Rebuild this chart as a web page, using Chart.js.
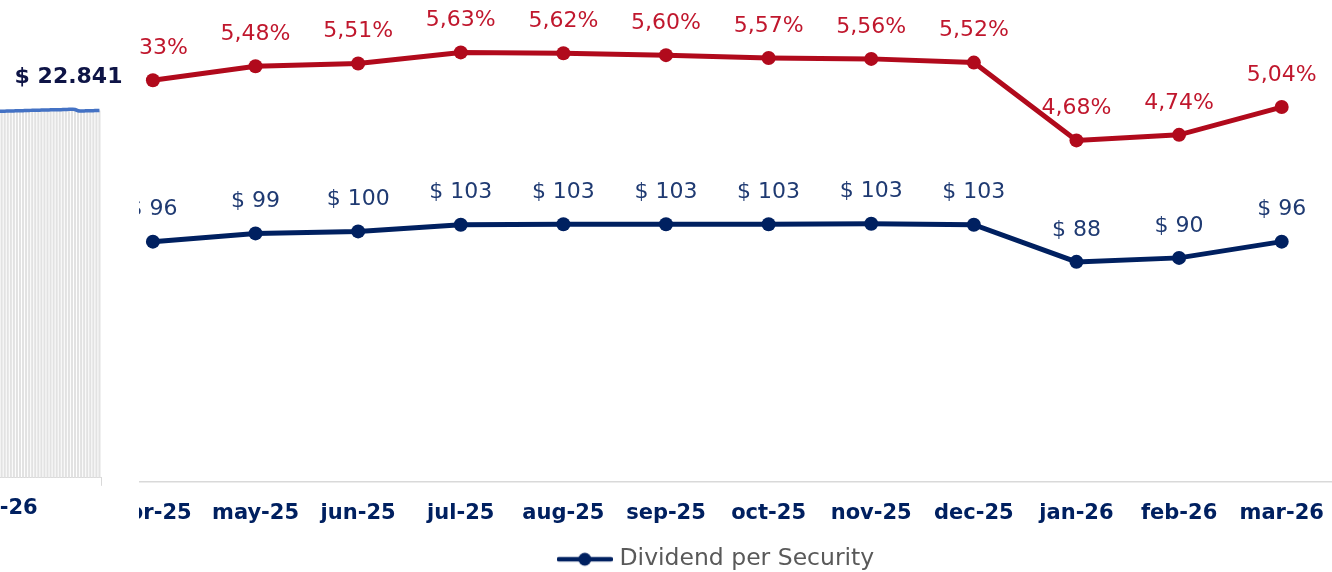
<!DOCTYPE html>
<html>
<head>
<meta charset="utf-8">
<script src="https://cdn.jsdelivr.net/npm/chart.js@4.4.1/dist/chart.umd.min.js"></script>
<style>
  html, body { margin: 0; padding: 0; background: #fff; overflow: hidden; width: 1332px; height: 572px; }
  #leftWrap { position: absolute; left: 0; top: 0; width: 139px; height: 572px; overflow: hidden; }
  #leftChart { position: absolute; left: -60px; top: 0; }
  #rightWrap { position: absolute; left: 139px; top: 0; width: 1193px; height: 572px; overflow: hidden; }
  #rightChart { position: absolute; left: -139px; top: 0; }
</style>
</head>
<body>
<div id="leftWrap"><canvas id="leftChart" width="200" height="572"></canvas></div>
<div id="rightWrap"><canvas id="rightChart" width="1340" height="572"></canvas></div>
<script>
const FONT = "'DejaVu Sans', sans-serif"

// left chart (tail of the daily value series)
const leftValues = [
    22790, 22795, 22800, 22800, 22805, 22810, 22815, 22820, 22825, 22830,
    22840, 22845, 22850, 22855, 22860, 22865, 22870, 22875, 22880, 22885,
    22885, 22890, 22895, 22900, 22910, 22915, 22905, 22820, 22810, 22815,
    22820, 22825, 22830, 22835, 22841
]
const leftMonthLabel = 'mar-26'

// right chart
const months = ['apr-25', 'may-25', 'jun-25', 'jul-25', 'aug-25', 'sep-25', 'oct-25', 'nov-25', 'dec-25', 'jan-26', 'feb-26', 'mar-26']
const dividend = [96.0, 99.3, 100.1, 102.8, 103.0, 103.0, 103.0, 103.2, 102.8, 87.9, 89.5, 96.0]
const yieldPct = [5.33, 5.48, 5.51, 5.63, 5.62, 5.60, 5.57, 5.56, 5.52, 4.68, 4.74, 5.04]

const NAVY = '#002060'
const RED = '#b10a1c'

// etiquetas sobre los puntos
const pointLabels = {
    id: 'pointLabels',
    afterDatasetsDraw(chart) {
        const ctx = chart.ctx
        chart.data.datasets.forEach((ds, i) => {
            if (!ds.labelFormat) return
            const meta = chart.getDatasetMeta(i)
            ctx.save()
            ctx.font = ds.labelFont
            ctx.fillStyle = ds.labelColor
            ctx.textAlign = ds.labelAlign || 'center'
            ctx.textBaseline = 'middle'
            meta.data.forEach((pt, j) => {
                if (ds.labelOnly !== undefined && ds.labelOnly !== j) return
                ctx.fillText(ds.labelFormat(ds.data[j]), pt.x + (ds.labelDx || 0), pt.y - ds.labelDy)
            })
            ctx.restore()
        })
    }
}

new Chart(document.getElementById('leftChart'), {
    type: 'bar',
    data: {
        labels: leftValues.map((v, i) => (i === 0 ? leftMonthLabel : '')),
        datasets: [
            {
                type: 'line',
                data: leftValues,
                borderColor: '#4472c4',
                borderWidth: 3.5,
                pointRadius: 0,
                tension: 0.3,
                labelFormat: (v) => '$ ' + v.toLocaleString('de-DE'),
                labelFont: 'bold 22px ' + FONT,
                labelColor: '#0e1446',
                labelAlign: 'right',
                labelDx: 23,
                labelDy: 33,
                labelOnly: leftValues.length - 1
            },
            {
                data: leftValues,
                backgroundColor: '#e2e2e2',
                barPercentage: 1,
                categoryPercentage: 0.68
            }
        ]
    },
    options: {
        responsive: false,
        animation: false,
        layout: { padding: { left: 54, right: 39, top: 5, bottom: 41 } },
        plugins: { legend: { display: false }, tooltip: { enabled: false } },
        scales: {
            x: {
                grid: {
                    display: true,
                    drawOnChartArea: false,
                    tickLength: 8,
                    color: (c) => (c.type === 'scale' ? '#d9d9d9' : 'rgba(0,0,0,0)')
                },
                border: { color: '#d9d9d9' },
                ticks: {
                    autoSkip: false,
                    maxRotation: 0,
                    minRotation: 0,
                    padding: 10,
                    color: NAVY,
                    font: { family: FONT, size: 21, weight: 'bold' }
                }
            },
            y: { display: false, min: 0, max: 29400 }
        }
    },
    plugins: [pointLabels]
})

// marcador de la leyenda: línea con punto
const marker = document.createElement('canvas')
marker.width = 56
marker.height = 16
const mctx = marker.getContext('2d')
mctx.strokeStyle = NAVY
mctx.lineWidth = 4.5
mctx.lineCap = 'round'
mctx.beginPath()
mctx.moveTo(2, 8)
mctx.lineTo(54, 8)
mctx.stroke()
mctx.fillStyle = NAVY
mctx.beginPath()
mctx.arc(28, 8, 6.5, 0, Math.PI * 2)
mctx.fill()

new Chart(document.getElementById('rightChart'), {
    type: 'line',
    data: {
        labels: months,
        datasets: [
            {
                label: 'Dividend per Security',
                data: dividend,
                yAxisID: 'y',
                borderColor: NAVY,
                backgroundColor: NAVY,
                borderWidth: 5,
                pointRadius: 7,
                pointBackgroundColor: NAVY,
                pointBorderWidth: 0,
                labelFormat: (v) => '$ ' + Math.round(v),
                labelFont: '22px ' + FONT,
                labelColor: '#1f3a72',
                labelDy: 32
            },
            {
                label: 'Yield',
                data: yieldPct,
                yAxisID: 'y1',
                borderColor: RED,
                backgroundColor: RED,
                borderWidth: 5,
                pointRadius: 7,
                pointBackgroundColor: RED,
                pointBorderWidth: 0,
                labelFormat: (v) => v.toFixed(2).replace('.', ',') + '%',
                labelFont: '22px ' + FONT,
                labelColor: '#c0172d',
                labelDy: 32
            }
        ]
    },
    options: {
        responsive: false,
        animation: false,
        layout: { padding: { left: 101.6, right: 5.6, top: 5, bottom: -9 } },
        plugins: {
            tooltip: { enabled: false },
            legend: {
                position: 'bottom',
                labels: {
                    filter: (item) => item.datasetIndex === 0,
                    usePointStyle: true,
                    pointStyle: marker,
                    pointStyleWidth: 46,
                    color: '#595959',
                    padding: 17,
                    font: { family: FONT, size: 23.5 }
                }
            }
        },
        scales: {
            x: {
                offset: true,
                grid: {
                    display: true,
                    drawOnChartArea: false,
                    drawTicks: true,
                    tickLength: 16,
                    color: 'rgba(0,0,0,0)'
                },
                border: { color: '#d9d9d9', width: 1.5 },
                ticks: {
                    padding: 4,
                    maxRotation: 0,
                    color: NAVY,
                    font: { family: FONT, size: 21, weight: 'bold' }
                }
            },
            y: { display: false, min: 0, max: 190 },
            y1: { display: false, min: 1, max: 6.12 }
        }
    },
    plugins: [pointLabels]
})
</script>
</body>
</html>
